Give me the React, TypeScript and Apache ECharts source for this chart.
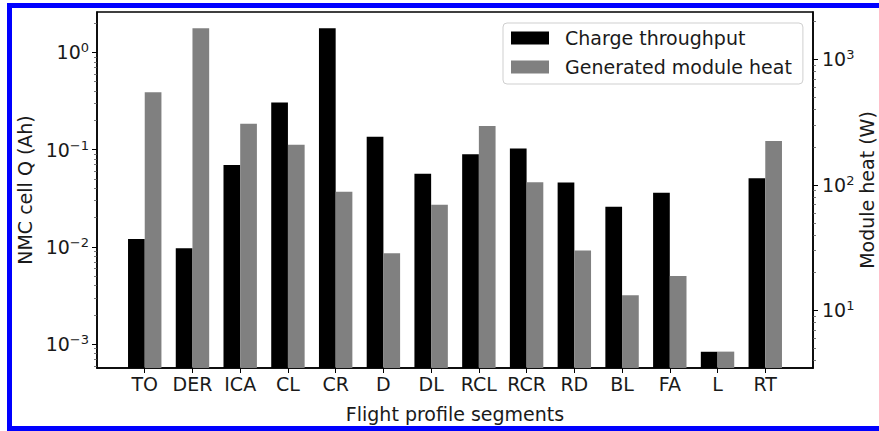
import React, { useEffect, useRef } from 'react';
import * as echarts from 'echarts';

const categories = ['TO', 'DER', 'ICA', 'CL', 'CR', 'D', 'DL', 'RCL', 'RCR', 'RD', 'BL', 'FA', 'L', 'RT'];
const chargeThroughput = [0.0121, 0.00968, 0.0695, 0.306, 1.77, 0.136, 0.0565, 0.0895, 0.103, 0.0461, 0.0259, 0.036, 0.000837, 0.0507];
const moduleHeat = [548, 1773, 308, 209, 88.4, 28.6, 69.6, 295, 105, 30, 13.2, 18.8, 4.7, 224];
const leftRange = [5.7e-4, 2.6];
const rightRange = [3.48, 2390];
const leftMinorTicks = [6e-4, 7e-4, 8e-4, 9e-4, 2e-3, 3e-3, 4e-3, 5e-3, 6e-3, 7e-3, 8e-3, 9e-3, 0.02, 0.03, 0.04, 0.05, 0.06, 0.07, 0.08, 0.09, 0.2, 0.3, 0.4, 0.5, 0.6, 0.7, 0.8, 0.9, 2];
const rightMinorTicks = [4, 5, 6, 7, 8, 9, 20, 30, 40, 50, 60, 70, 80, 90, 200, 300, 400, 500, 600, 700, 800, 900, 2000];
const xTitle = 'Flight profile segments';
const leftTitle = 'NMC cell Q (Ah)';
const rightTitle = 'Module heat (W)';
const seriesNames = ['Charge throughput', 'Generated module heat'];

export default function App() {
  const ref = useRef<HTMLDivElement>(null);
  useEffect(() => {
    const chart = echarts.init(ref.current!, null, { renderer: 'svg' });
    const font = 'DejaVu Sans';
    const txt = '#1a1a1a';
    const axisCats = ['', ...categories, ''];
    const pad = (a: number[]) => [null, ...a, null];
    const supFmt = (v: number) => {
      const e = Math.round(Math.log10(v));
      return `10{sup|${e < 0 ? '\u2212' + -e : e}}`;
    };
    const labelBase = {
      fontSize: 19,
      fontFamily: font,
      color: txt,
      lineHeight: 22,
      rich: { sup: { fontSize: 13, lineHeight: 10, verticalAlign: 'top', fontFamily: font, color: txt } },
    };
    const lineStyle = { color: '#000', width: 1.5 };
    const tickStyle = { color: '#000', width: 1 };
    const nameStyle = { fontSize: 19, fontFamily: font, color: txt };
    chart.setOption({
      animation: false,
      grid: {
        left: 97,
        right: 66,
        top: 12,
        bottom: 63,
        show: true,
        borderColor: '#000',
        borderWidth: 1.5,
        containLabel: false,
        outerBoundsMode: 'none',
      },
      legend: {
        orient: 'vertical',
        left: 503,
        top: 23,
        itemWidth: 38,
        itemHeight: 13,
        itemGap: 9,
        padding: [5, 11, 7, 8],
        icon: 'rect',
        backgroundColor: '#fff',
        borderColor: '#cfcfcf',
        borderWidth: 1,
        borderRadius: 4,
        textStyle: { fontSize: 19, fontFamily: font, color: txt, lineHeight: 20, padding: [0, 0, 0, 11] },
        data: seriesNames,
      },
      xAxis: {
        type: 'category',
        data: axisCats,
        boundaryGap: false,
        axisLine: { lineStyle },
        axisTick: { length: 5, lineStyle: tickStyle, interval: (i: number) => i > 0 && i < axisCats.length - 1 },
        axisLabel: { interval: 0, fontSize: 19, fontFamily: font, color: txt, margin: 6 },
        splitLine: { show: false },
        name: xTitle,
        nameLocation: 'middle',
        nameGap: 36,
        nameTextStyle: nameStyle,
      },
      yAxis: [
        {
          type: 'log',
          logBase: 10,
          min: leftRange[0],
          max: leftRange[1],
          startValue: leftRange[0],
          position: 'left',
          axisLine: { show: true, lineStyle },
          axisTick: { show: true, length: 5, lineStyle: tickStyle },
          axisLabel: { ...labelBase, margin: 8, formatter: supFmt, showMinLabel: false, showMaxLabel: false },
          splitLine: { show: false },
          name: leftTitle,
          nameLocation: 'middle',
          nameGap: 60,
          nameRotate: 90,
          nameTextStyle: nameStyle,
        },
        {
          type: 'log',
          logBase: 10,
          min: rightRange[0],
          max: rightRange[1],
          startValue: rightRange[0],
          position: 'right',
          axisLine: { show: true, lineStyle },
          axisTick: { show: true, length: 5, lineStyle: tickStyle },
          axisLabel: { ...labelBase, margin: 9, formatter: supFmt, showMinLabel: false, showMaxLabel: false },
          splitLine: { show: false },
        },
        {
          type: 'log',
          logBase: 10,
          min: leftRange[0],
          max: leftRange[1],
          position: 'left',
          axisLine: { show: false },
          axisLabel: { show: false },
          axisTick: { show: true, length: 3, customValues: leftMinorTicks, lineStyle: { color: '#555', width: 0.8 } },
          splitLine: { show: false },
        },
        {
          type: 'log',
          logBase: 10,
          min: rightRange[0],
          max: rightRange[1],
          position: 'right',
          axisLine: { show: false },
          axisLabel: { show: false },
          axisTick: { show: true, length: 3, customValues: rightMinorTicks, lineStyle: { color: '#555', width: 0.8 } },
          splitLine: { show: false },
        },
      ],
      series: [
        {
          type: 'bar',
          name: seriesNames[0],
          yAxisIndex: 0,
          data: pad(chargeThroughput),
          barWidth: '35%',
          barGap: '0%',
          itemStyle: { color: '#000' },
        },
        {
          type: 'bar',
          name: seriesNames[1],
          yAxisIndex: 1,
          data: pad(moduleHeat),
          barWidth: '35%',
          barGap: '0%',
          itemStyle: { color: '#808080' },
        },
      ],
      graphic: [
        {
          type: 'text',
          silent: true,
          x: 867,
          y: 190,
          rotation: Math.PI / 2,
          style: {
            text: rightTitle,
            fontSize: 19,
            fontFamily: font,
            fill: txt,
            align: 'center',
            verticalAlign: 'middle',
          },
        },
        {
          type: 'rect',
          silent: true,
          z: 100,
          shape: { x: 9.5, y: 5.5, width: 880, height: 423 },
          style: { fill: 'none', stroke: '#0000ff', lineWidth: 5 },
        },
      ],
    });
    return () => chart.dispose();
  }, []);
  return <div ref={ref} style={{ position: 'absolute', left: 0, top: 0, width: 879, height: 431 }} />;
}
